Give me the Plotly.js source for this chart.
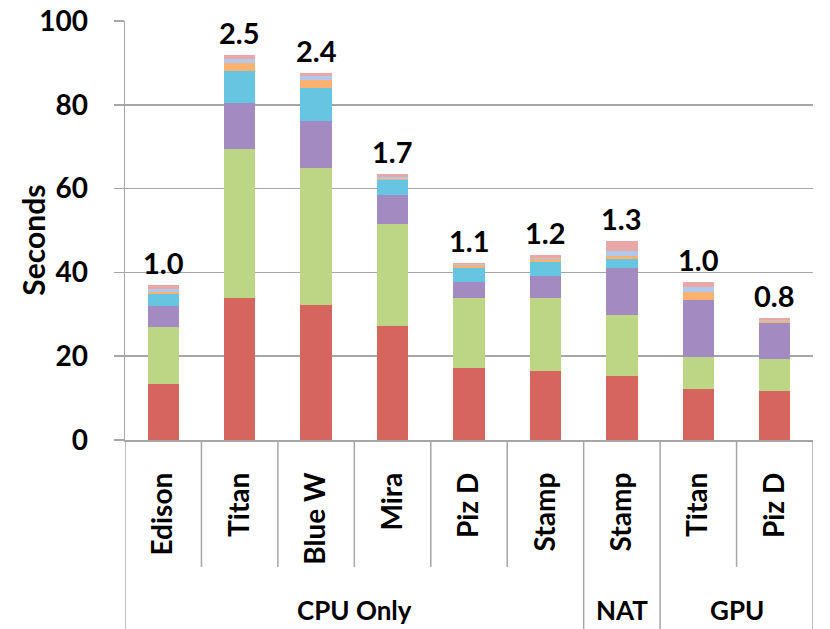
<!DOCTYPE html>
<html>
<head>
<meta charset="utf-8">
<script src="https://cdn.plot.ly/plotly-3.0.1.min.js"></script>
<style>html,body{margin:0;padding:0;background:#fff;}#chart{width:830px;height:629px;}</style>
</head>
<body>
<div id="chart"></div>
<script>
// Categories (lower level) and groups (upper level)
const machines = ["Edison", "Titan", "Blue W", "Mira", "Piz D", "Stamp", "Stamp", "Titan", "Piz D"];
const groups = ["CPU Only", "NAT", "GPU"];
const groupOf = ["CPU Only", "CPU Only", "CPU Only", "CPU Only", "CPU Only", "CPU Only", "NAT", "GPU", "GPU"];
const speedupLabels = ["1.0", "2.5", "2.4", "1.7", "1.1", "1.2", "1.3", "1.0", "0.8"];
const yTicks = [0, 20, 40, 60, 80, 100];
const yTitle = "Seconds";

// Stacked segment values (seconds), bottom to top
const seg1 = [13.3, 34.0, 32.3, 27.3, 17.2, 16.5, 15.2, 12.2, 11.6];
const seg2 = [13.7, 35.4, 32.7, 24.2, 16.7, 17.4, 14.6, 7.7, 7.8];
const seg3 = [5.1, 11.1, 11.1, 6.9, 3.7, 5.3, 11.3, 13.4, 8.6];
const seg4 = [2.7, 7.5, 8.0, 3.6, 3.5, 3.3, 2.0, 0.0, 0.0];
const seg5 = [0.6, 2.0, 1.9, 0.4, 0.7, 0.6, 0.9, 2.1, 0.5];
const seg6 = [0.6, 0.9, 0.8, 0.4, 0.1, 0.4, 1.2, 1.2, 0.1];
const seg7 = [1.0, 1.0, 0.9, 0.8, 0.3, 0.7, 2.4, 1.2, 0.6];

const segments = [seg1, seg2, seg3, seg4, seg5, seg6, seg7];
const colors = ["#D6665D", "#BDD686", "#A38BC2", "#66C5E0", "#FBB170", "#AFC8EC", "#E9A8A7"];

const xIdx = machines.map((_, i) => i);
const FONT = "Lato, 'Open Sans', sans-serif";

const traces = segments.map((vals, k) => ({
  type: "bar",
  x: xIdx,
  y: vals,
  width: 0.41,
  marker: {color: colors[k], line: {width: 0}},
  showlegend: false,
  hoverinfo: "y"
}));

const totals = xIdx.map(i => segments.reduce((s, arr) => s + arr[i], 0));

const annotations = xIdx.map(i => ({
  x: i, y: totals[i], xref: "x", yref: "y",
  text: speedupLabels[i], showarrow: false,
  yanchor: "bottom", yshift: 3,
  font: {family: FONT, size: 29, color: "#000", weight: 700}
}));

// group labels
const groupCenters = groups.map(g => {
  const idx = xIdx.filter(i => groupOf[i] === g);
  return (idx[0] + idx[idx.length - 1]) / 2;
});
groups.forEach((g, j) => {
  annotations.push({
    x: groupCenters[j], y: -0.406, xref: "x", yref: "paper",
    text: g, showarrow: false, yanchor: "middle",
    font: {family: FONT, size: 26, color: "#000", weight: 700}
  });
});

// y-axis title
annotations.push({
  x: -0.133, y: 0.477, xref: "paper", yref: "paper",
  text: yTitle, textangle: -90, showarrow: false,
  xanchor: "center", yanchor: "middle",
  font: {family: FONT, size: 30, color: "#000", weight: 700}
});

// divider shapes
const shapes = [];
const upperBottom = -0.303, lowerBottom = -0.46;
for (let i = 0; i <= machines.length; i++) {
  const xb = i - 0.5;
  const isGroupEdge = (i === 0 || i === machines.length || groupOf[i] !== groupOf[i - 1]);
  shapes.push({
    type: "line", xref: "x", yref: "paper",
    x0: xb, x1: xb, y0: 0, y1: isGroupEdge ? lowerBottom : upperBottom,
    line: {color: "#A6A6A6", width: 1.5}
  });
}

const layout = {
  width: 830, height: 629,
  margin: {l: 125, r: 17, t: 21, b: 189},
  paper_bgcolor: "#fff", plot_bgcolor: "#fff",
  barmode: "stack",
  bargap: 0.59,
  showlegend: false,
  font: {family: FONT, size: 27, color: "#000", weight: 700},
  xaxis: {
    range: [-0.5, machines.length - 0.5],
    tickmode: "array", tickvals: xIdx, ticktext: machines,
    tickangle: -90,
    ticks: "", showgrid: false, zeroline: false,
    showline: true, linecolor: "#A6A6A6", linewidth: 1.5,
    ticklabelstandoff: 20,
    tickfont: {family: FONT, size: 28, color: "#000", weight: 700},
    fixedrange: true
  },
  yaxis: {
    range: [0, 100],
    tickmode: "array", tickvals: yTicks,
    ticks: "outside", ticklen: 10, tickcolor: "#A6A6A6", tickwidth: 1.5,
    ticklabelstandoff: 20,
    showgrid: true, gridcolor: "#A6A6A6", gridwidth: 1.5,
    zeroline: false,
    showline: true, linecolor: "#A6A6A6", linewidth: 1.5,
    tickfont: {family: FONT, size: 28, color: "#000", weight: 700},
    fixedrange: true
  },
  annotations: annotations,
  shapes: shapes
};

Plotly.newPlot("chart", traces, layout, {displayModeBar: false, staticPlot: true});
</script>
</body>
</html>
